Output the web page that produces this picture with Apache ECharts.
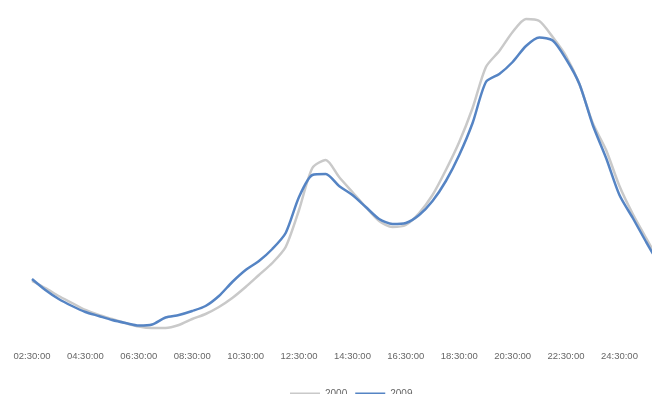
<!DOCTYPE html>
<html>
<head>
<meta charset="utf-8">
<script src="https://cdn.jsdelivr.net/npm/echarts@6/dist/echarts.min.js"></script>
<style>html,body{margin:0;padding:0;background:#fff}#c{width:652px;height:394px}</style>
</head>
<body>
<div id="c"></div>
<script>
const categories = ["02:30:00","03:00:00","03:30:00","04:00:00","04:30:00","05:00:00","05:30:00","06:00:00",
"06:30:00","07:00:00","07:30:00","08:00:00","08:30:00","09:00:00","09:30:00","10:00:00",
"10:30:00","11:00:00","11:30:00","12:00:00","12:30:00","13:00:00","13:30:00","14:00:00",
"14:30:00","15:00:00","15:30:00","16:00:00","16:30:00","17:00:00","17:30:00","18:00:00",
"18:30:00","19:00:00","19:30:00","20:00:00","20:30:00","21:00:00","21:30:00","22:00:00",
"22:30:00","23:00:00","23:30:00","24:00:00","24:30:00","25:00:00","25:30:00","26:00:00"];

const series2000 = [49,42,34,27,20,15,11,7,3.5,2,2,5,11,16,23,32,43,55,67,83,120,162,170,153,138,123,109,103,105,117,135,160,188,222,263,279,298,311,309,293,274,246,207,180,144,116,92,68];
const series2009 = [51,40,31,24,18,14,10,7,4.5,5.5,12.5,15,19,24,34,48,60,69,81,97,133,155,156,144,135,123,111,106,107,115,129,149,175,207,248,256,268,284,292.5,289.5,271,246,205,172,135,112,88,65];

const legendNames = ["2000","2009"];
const colors = ['#c9c9c9', '#5584c4'];

const chart = echarts.init(document.getElementById('c'));
chart.setOption({
  animation: false,
  backgroundColor: '#ffffff',
  grid: { left: 32, width: 627.5, top: 0, bottom: 64, containLabel: false, outerBoundsMode: 'none' },
  legend: {
    data: legendNames.map((n, i) => ({ name: n, icon: 'rect', itemStyle: { color: colors[i], borderWidth: 0 } })),
    left: 285, top: 384,
    itemWidth: 30, itemHeight: 3, itemGap: 8,
    textStyle: { fontFamily: 'Liberation Sans', fontSize: 10, color: '#666' }
  },
  xAxis: {
    type: 'category',
    data: categories,
    boundaryGap: false,
    axisLine: { show: false },
    axisTick: { show: false },
    axisLabel: {
      interval: function (index) { return index % 4 === 0; },
      margin: 21, hideOverlap: false,
      fontFamily: 'Liberation Sans', fontSize: 9.5, color: '#666'
    },
    splitLine: { show: false }
  },
  yAxis: {
    type: 'value', min: 0, max: 330,
    show: false, splitLine: { show: false }
  },
  series: [
    { name: legendNames[0], type: 'line', data: series2000, symbol: 'none', smooth: 0.25,
      lineStyle: { color: colors[0], width: 2.5 }, itemStyle: { color: colors[0] } },
    { name: legendNames[1], type: 'line', data: series2009, symbol: 'none', smooth: 0.25,
      lineStyle: { color: colors[1], width: 2.5 }, itemStyle: { color: colors[1] } }
  ]
});
</script>
</body>
</html>
